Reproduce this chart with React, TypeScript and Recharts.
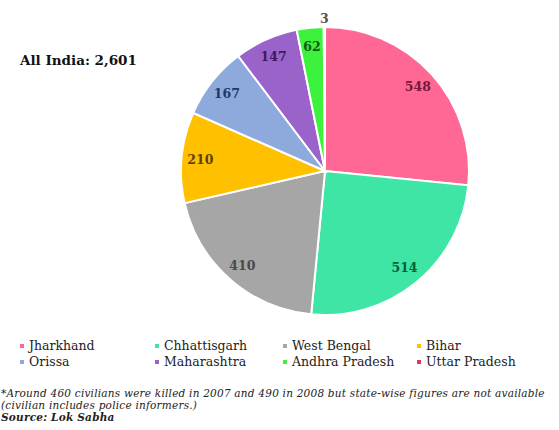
import { Cell, Legend, Pie, PieChart } from 'recharts'

const STATES = [
  'Jharkhand',
  'Chhattisgarh',
  'West Bengal',
  'Bihar',
  'Orissa',
  'Maharashtra',
  'Andhra Pradesh',
  'Uttar Pradesh',
]
const KILLED = [548, 514, 410, 210, 167, 147, 62, 3]
const SLICE_COLORS = ['#ff6795', '#3ee5a5', '#a6a6a6', '#ffc000', '#8eaadd', '#9a63c9', '#3df23d', '#e23460']
const LABEL_COLORS = ['#7a1838', '#0d5c3b', '#4a4a4a', '#5c4200', '#1f3768', '#3b1c5a', '#0f5a10', '#555555']
const TOTAL_LABEL = 'All India: 2,601'
const FOOTNOTES = [
  '*Around 460 civilians were killed in 2007 and 490 in 2008 but state-wise figures are not available',
  '(civilian includes police informers.)',
]
const SOURCE = 'Source: Lok Sabha'

const data = STATES.map((name, i) => ({ name, value: KILLED[i] }))

const SERIF = '"DejaVu Serif", serif'
const RADIAN = Math.PI / 180

function renderLabel(props: any) {
  const { cx, cy, midAngle, outerRadius, index, value } = props
  const small = value < 20
  const r = small ? outerRadius + 9 : outerRadius * 0.87
  const x = cx + r * Math.cos(-midAngle * RADIAN)
  const y = cy + r * Math.sin(-midAngle * RADIAN)
  return (
    <text
      x={x}
      y={y}
      fill={LABEL_COLORS[index]}
      fontFamily={SERIF}
      fontSize={12.5}
      fontWeight="bold"
      textAnchor="middle"
      dominantBaseline="central"
    >
      {value}
    </text>
  )
}

// legend reads row-wise, 4 per row, same order as the slices
function LegendGrid() {
  return (
    <div
      style={{
        display: 'grid',
        gridTemplateColumns: '135px 128px 134px 130px',
        rowGap: 1,
        fontFamily: SERIF,
        fontSize: 12.5,
        lineHeight: '15px',
        color: '#222',
      }}
    >
      {data.map((d, i) => (
        <div key={`legend-${d.name}`} style={{ display: 'flex', alignItems: 'center', whiteSpace: 'nowrap' }}>
          <span
            style={{
              display: 'inline-block',
              width: 4,
              height: 4,
              marginRight: 5,
              backgroundColor: SLICE_COLORS[i],
            }}
          />
          {d.name}
        </div>
      ))}
    </div>
  )
}

export default function App() {
  return (
    <div style={{ position: 'absolute', left: 0, top: 0, width: 559, height: 430, background: '#fff', overflow: 'hidden' }}>
      <div
        style={{
          position: 'absolute',
          left: 20,
          top: 52,
          fontFamily: SERIF,
          fontSize: 13.5,
          fontWeight: 'bold',
          color: '#111',
        }}
      >
        {TOTAL_LABEL}
      </div>
      <PieChart width={559} height={375}>
        <Pie
          data={data}
          dataKey="value"
          nameKey="name"
          cx={320}
          cy={166}
          outerRadius={144}
          startAngle={90}
          endAngle={-270}
          stroke="#ffffff"
          strokeWidth={2}
          label={renderLabel}
          labelLine={false}
          isAnimationActive={false}
        >
          {data.map((d, i) => (
            <Cell key={`slice-${d.name}`} fill={SLICE_COLORS[i]} />
          ))}
        </Pie>
        <Legend
          content={() => <LegendGrid />}
          wrapperStyle={{ position: 'absolute', left: 20, top: 338, width: 540 }}
        />
      </PieChart>
      <div
        style={{
          position: 'absolute',
          left: 1,
          top: 387,
          fontFamily: SERIF,
          fontSize: 10.5,
          letterSpacing: 0.22,
          fontStyle: 'italic',
          color: '#222',
          lineHeight: '12px',
          whiteSpace: 'nowrap',
        }}
      >
        {FOOTNOTES.map((line) => (
          <div key={line}>{line}</div>
        ))}
        <div style={{ fontWeight: 'bold' }}>{SOURCE}</div>
      </div>
    </div>
  )
}
